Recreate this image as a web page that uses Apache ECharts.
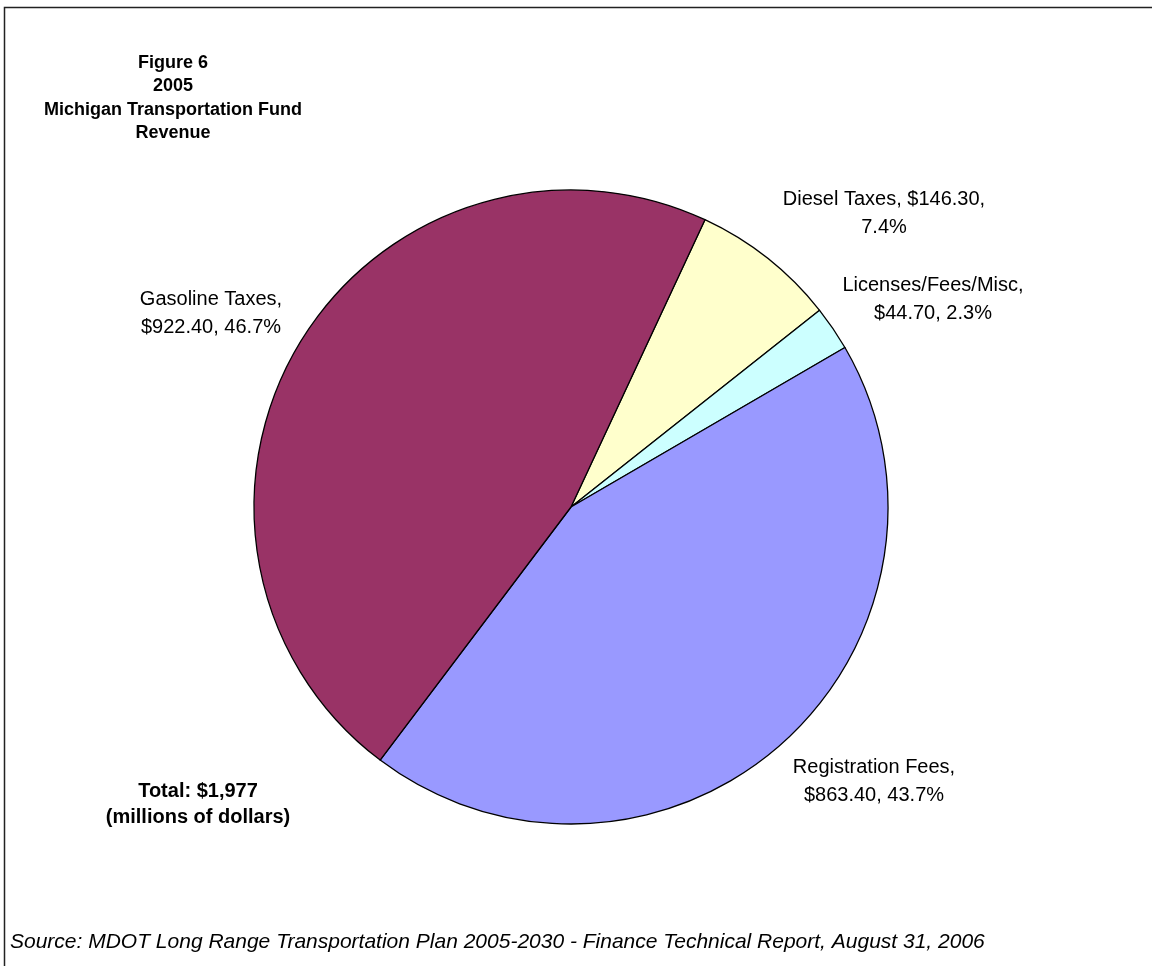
<!DOCTYPE html>
<html>
<head>
<meta charset="utf-8">
<script src="https://cdn.jsdelivr.net/npm/echarts@6/dist/echarts.min.js"></script>
<style>
  html, body { margin: 0; padding: 0; background: #fff; }
  #main { width: 1152px; height: 966px; }
</style>
</head>
<body>
<div id="main"></div>
<script>
// revenue sources, millions of dollars (clockwise from the top)
const categories = ['Diesel Taxes', 'Licenses/Fees/Misc', 'Registration Fees', 'Gasoline Taxes']
const revenue = [146.3, 44.7, 863.4, 922.4]
const sliceColors = ['#FFFFCC', '#CCFFFF', '#9999FF', '#993366']
const titleLines = ['Figure 6', '2005', 'Michigan Transportation Fund', 'Revenue']
const totalLines = ['Total: $1,977', '(millions of dollars)']
const sourceText = 'Source: MDOT Long Range Transportation Plan 2005-2030 - Finance Technical Report, August 31, 2006'

// label centres, in pixels
const labelPos = [[884, 213], [933, 299], [874, 781], [211, 313]]

const FONT = 'Arial, "Liberation Sans", sans-serif'
const total = revenue.reduce((a, b) => a + b, 0)

const chart = echarts.init(document.getElementById('main'))

const option = {
  backgroundColor: '#fff',
  animation: false,
  series: [
    {
      type: 'pie',
      center: [571, 507],
      radius: 317,
      startAngle: 65,
      clockwise: true,
      data: categories.map((name, i) => ({
        name: name,
        value: revenue[i],
        itemStyle: { color: sliceColors[i] }
      })),
      itemStyle: {
        borderColor: '#000',
        borderWidth: 1.3
      },
      label: {
        show: true,
        position: 'outside',
        color: '#000',
        fontFamily: FONT,
        fontSize: 20,
        lineHeight: 28,
        align: 'center',
        formatter: p => {
          const money = '$' + p.value.toFixed(2)
          // plain rounding, like the spreadsheet
          const pct = (p.value / total * 100).toFixed(1) + '%'
          // diesel label wraps before the percent, the rest after the name
          if (p.dataIndex === 0) return p.name + ', ' + money + ',\n' + pct
          return p.name + ',\n' + money + ', ' + pct
        }
      },
      labelLine: { show: false },
      labelLayout: params => ({
        x: labelPos[params.dataIndex][0],
        y: labelPos[params.dataIndex][1],
        align: 'center',
        verticalAlign: 'middle'
      }),
      emphasis: { disabled: true }
    }
  ],
  graphic: [
    // frame, top and left edges only
    {
      type: 'polyline',
      shape: { points: [[4.5, 966], [4.5, 7.5], [1152, 7.5]] },
      style: { stroke: '#222', lineWidth: 1.5, fill: null }
    },
    {
      type: 'text',
      style: {
        text: titleLines.join('\n'),
        x: 173,
        y: 51,
        align: 'center',
        verticalAlign: 'top',
        font: 'bold 18px ' + FONT,
        lineHeight: 23.5,
        fill: '#000'
      }
    },
    {
      type: 'text',
      style: {
        text: totalLines.join('\n'),
        x: 198,
        y: 778,
        align: 'center',
        verticalAlign: 'top',
        font: 'bold 20px ' + FONT,
        lineHeight: 26,
        fill: '#000'
      }
    },
    {
      type: 'text',
      style: {
        text: sourceText,
        x: 10,
        y: 942,
        verticalAlign: 'middle',
        font: 'italic 21px ' + FONT,
        fill: '#000'
      }
    }
  ]
}

chart.setOption(option)
</script>
</body>
</html>
